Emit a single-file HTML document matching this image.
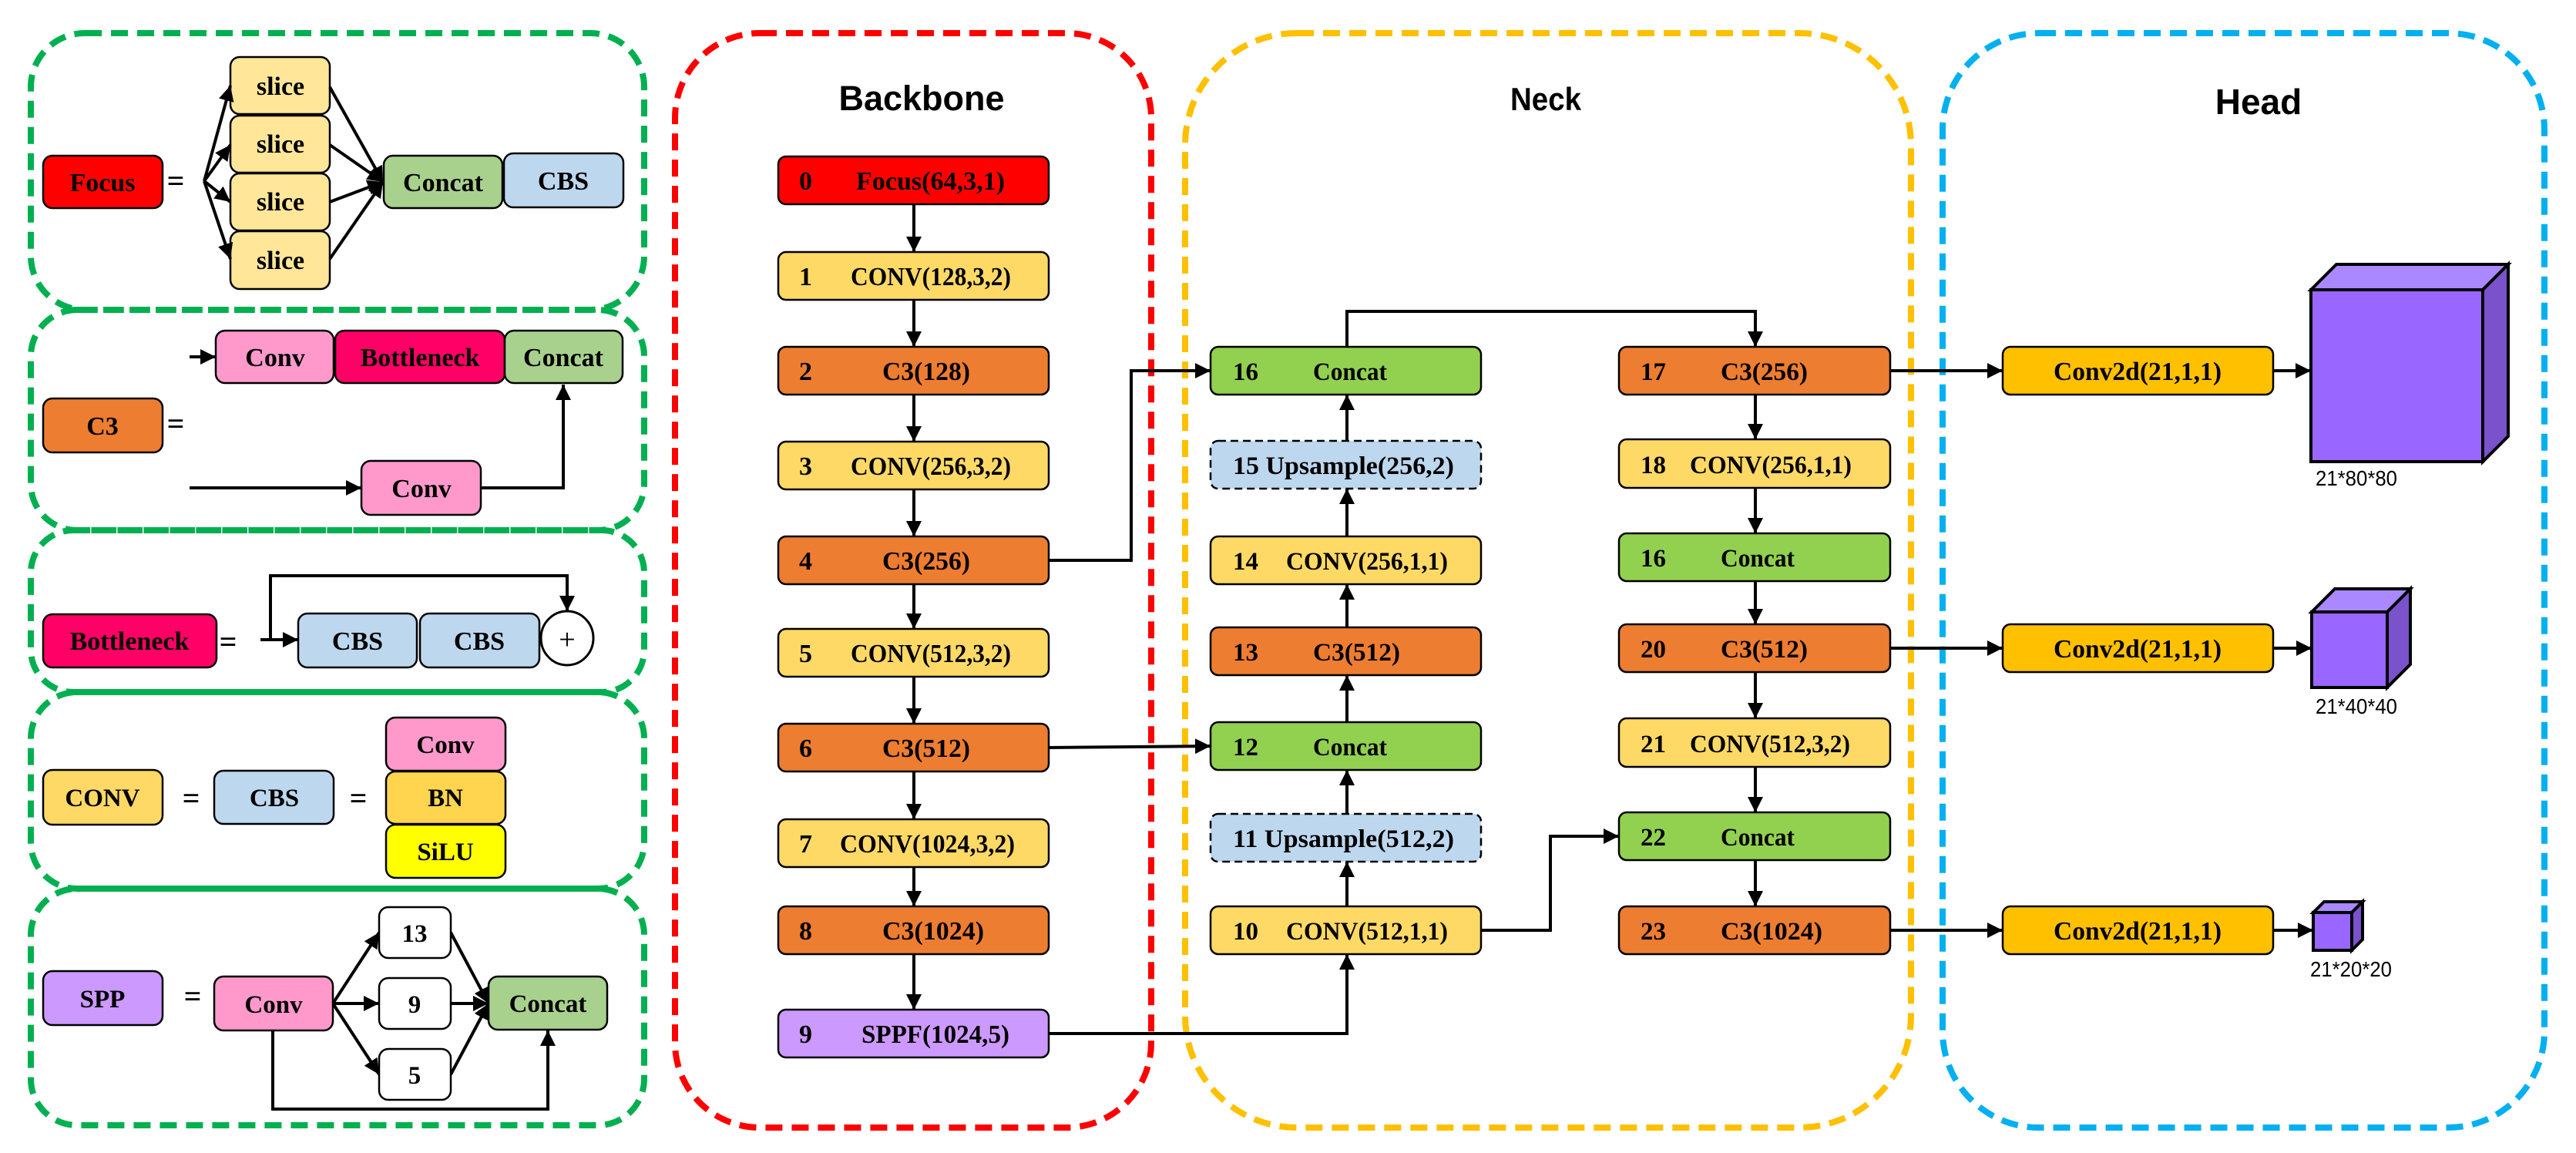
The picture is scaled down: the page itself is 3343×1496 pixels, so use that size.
<!DOCTYPE html>
<html><head><meta charset="utf-8"><style>
html,body{margin:0;padding:0;background:#fff;}
svg{display:block;}
text{font-family:"Liberation Serif",serif;font-weight:bold;fill:#000;}
.t{font-family:"Liberation Sans",sans-serif;font-weight:bold;}
.s{font-family:"Liberation Sans",sans-serif;font-weight:normal;}
.b{stroke:#000;stroke-width:2.5;}
.l{stroke:#000;stroke-width:4;fill:none;}
</style></head><body>
<svg width="3343" height="1496" viewBox="0 0 3343 1496" xmlns="http://www.w3.org/2000/svg">
<defs>
<marker id="a" viewBox="0 0 10 10" refX="10" refY="5" markerWidth="5" markerHeight="5" orient="auto" markerUnits="strokeWidth"><path d="M0,0L10,5L0,10z" fill="#000"/></marker>
</defs>

<g fill="none" stroke-width="8" stroke-dasharray="22,12">
<rect x="40" y="43" width="796" height="359" rx="70" stroke="#00b050"/>
<rect x="40" y="402" width="796" height="286" rx="60" stroke="#00b050"/>
<rect x="40" y="688" width="796" height="210" rx="55" stroke="#00b050"/>
<rect x="40" y="898" width="796" height="255" rx="60" stroke="#00b050"/>
<rect x="40" y="1153" width="796" height="307" rx="60" stroke="#00b050"/>
<rect x="876" y="43" width="618" height="1420" rx="110" stroke="#ff0000"/>
<rect x="1538" y="43" width="942" height="1420" rx="145" stroke="#ffc000"/>
<rect x="2521" y="43" width="781" height="1420" rx="125" stroke="#00b0f0"/>
</g>

<text class="t" x="1196" y="143" font-size="45" text-anchor="middle">Backbone</text>
<text class="t" x="2006" y="143" font-size="42" text-anchor="middle" textLength="92" lengthAdjust="spacingAndGlyphs">Neck</text>
<text class="t" x="2931" y="148" font-size="46" text-anchor="middle">Head</text>

<rect class="b" x="56" y="202" width="155" height="68" rx="12" fill="#ff0000"/>
<text x="133" y="248" font-size="34" text-anchor="middle">Focus</text>
<text x="228" y="248" font-size="40" text-anchor="middle">=</text>
<g fill="#ffe699">
<rect class="b" x="299" y="74" width="129" height="74" rx="12"/>
<rect class="b" x="299" y="150" width="129" height="74" rx="12"/>
<rect class="b" x="299" y="225" width="129" height="74" rx="12"/>
<rect class="b" x="299" y="300" width="129" height="75" rx="12"/>
</g>
<g font-size="34" text-anchor="middle">
<text x="364" y="123">slice</text><text x="364" y="198">slice</text>
<text x="364" y="273">slice</text><text x="364" y="349">slice</text>
</g>
<g class="l" marker-end="url(#a)">
<line x1="265" y1="235" x2="299" y2="111"/>
<line x1="265" y1="235" x2="299" y2="188"/>
<line x1="265" y1="235" x2="299" y2="262"/>
<line x1="265" y1="235" x2="299" y2="336"/>
<line x1="428" y1="113" x2="497" y2="236"/>
<line x1="428" y1="188" x2="497" y2="236"/>
<line x1="428" y1="262" x2="497" y2="236"/>
<line x1="428" y1="336" x2="497" y2="236"/>
</g>
<rect class="b" x="498" y="202" width="154" height="68" rx="12" fill="#a9d18e"/>
<text x="575" y="248" font-size="34" text-anchor="middle">Concat</text>
<rect class="b" x="654" y="199" width="155" height="70" rx="12" fill="#bdd7ee"/>
<text x="731" y="246" font-size="34" text-anchor="middle">CBS</text>

<line class="l" x1="246" y1="463" x2="280" y2="463" marker-end="url(#a)"/>
<rect class="b" x="280" y="429" width="153" height="68" rx="12" fill="#ff99cc"/>
<text x="357" y="475" font-size="34" text-anchor="middle">Conv</text>
<rect class="b" x="435" y="429" width="220" height="68" rx="12" fill="#ff0066"/>
<text x="545" y="475" font-size="34" text-anchor="middle">Bottleneck</text>
<rect class="b" x="655" y="429" width="153" height="68" rx="12" fill="#a9d18e"/>
<text x="731" y="475" font-size="34" text-anchor="middle">Concat</text>
<rect class="b" x="56" y="517" width="155" height="70" rx="12" fill="#ed7d31"/>
<text x="133" y="564" font-size="34" text-anchor="middle">C3</text>
<text x="228" y="563" font-size="40" text-anchor="middle">=</text>
<line class="l" x1="246" y1="633" x2="469" y2="633" marker-end="url(#a)"/>
<rect class="b" x="469" y="598" width="155" height="70" rx="12" fill="#ff99cc"/>
<text x="547" y="645" font-size="34" text-anchor="middle">Conv</text>
<polyline class="l" points="624,633 731,633 731,499" marker-end="url(#a)"/>

<rect class="b" x="56" y="797" width="225" height="69" rx="12" fill="#ff0066"/>
<text x="168" y="843" font-size="34" text-anchor="middle">Bottleneck</text>
<text x="296" y="846" font-size="40" text-anchor="middle">=</text>
<line class="l" x1="338" y1="830" x2="387" y2="830" marker-end="url(#a)"/>
<polyline class="l" points="351,830 351,747 736,747 736,793" marker-end="url(#a)"/>
<rect class="b" x="387" y="796" width="154" height="70" rx="12" fill="#bdd7ee"/>
<text x="464" y="843" font-size="34" text-anchor="middle">CBS</text>
<rect class="b" x="545" y="796" width="155" height="70" rx="12" fill="#bdd7ee"/>
<text x="622" y="843" font-size="34" text-anchor="middle">CBS</text>
<ellipse cx="736" cy="828" rx="34" ry="35" fill="#fff" stroke="#000" stroke-width="3"/>
<text x="736" y="842" font-size="38" text-anchor="middle" style="font-weight:normal">+</text>

<rect class="b" x="56" y="999" width="155" height="71" rx="12" fill="#ffd966"/>
<text x="133" y="1046" font-size="33" text-anchor="middle">CONV</text>
<text x="248" y="1049" font-size="40" text-anchor="middle">=</text>
<rect class="b" x="278" y="1000" width="155" height="69" rx="12" fill="#bdd7ee"/>
<text x="356" y="1046" font-size="33" text-anchor="middle">CBS</text>
<text x="465" y="1049" font-size="40" text-anchor="middle">=</text>
<rect class="b" x="501" y="931" width="155" height="69" rx="12" fill="#ff99cc"/>
<text x="578" y="977" font-size="33" text-anchor="middle">Conv</text>
<rect class="b" x="501" y="1001" width="155" height="68" rx="12" fill="#ffd54f"/>
<text x="578" y="1046" font-size="33" text-anchor="middle">BN</text>
<rect class="b" x="501" y="1070" width="155" height="69" rx="12" fill="#ffff00"/>
<text x="578" y="1116" font-size="33" text-anchor="middle">SiLU</text>

<rect class="b" x="56" y="1260" width="155" height="70" rx="12" fill="#cc99ff"/>
<text x="133" y="1307" font-size="33" text-anchor="middle">SPP</text>
<text x="250" y="1306" font-size="40" text-anchor="middle">=</text>
<rect class="b" x="278" y="1267" width="154" height="70" rx="12" fill="#ff99cc"/>
<text x="355" y="1314" font-size="33" text-anchor="middle">Conv</text>
<g class="l" marker-end="url(#a)">
<line x1="432" y1="1302" x2="492" y2="1210"/>
<line x1="432" y1="1302" x2="492" y2="1302"/>
<line x1="432" y1="1302" x2="492" y2="1394"/>
<line x1="585" y1="1210" x2="634" y2="1302"/>
<line x1="585" y1="1302" x2="634" y2="1302"/>
<line x1="585" y1="1394" x2="634" y2="1302"/>
</g>
<g fill="#fff">
<rect class="b" x="492" y="1177" width="93" height="66" rx="12"/>
<rect class="b" x="492" y="1269" width="93" height="66" rx="12"/>
<rect class="b" x="492" y="1361" width="93" height="66" rx="12"/>
</g>
<text x="538" y="1222" font-size="33" text-anchor="middle">13</text>
<text x="538" y="1314" font-size="33" text-anchor="middle">9</text>
<text x="538" y="1406" font-size="33" text-anchor="middle">5</text>
<rect class="b" x="634" y="1267" width="154" height="69" rx="12" fill="#a9d18e"/>
<text x="711" y="1313" font-size="33" text-anchor="middle">Concat</text>
<polyline class="l" points="354,1337 354,1439 711,1439 711,1337" marker-end="url(#a)"/>

<g class="l" marker-end="url(#a)">
<line x1="1186" y1="265" x2="1186" y2="327"/>
<line x1="1186" y1="389" x2="1186" y2="450"/>
<line x1="1186" y1="512" x2="1186" y2="573"/>
<line x1="1186" y1="635" x2="1186" y2="696"/>
<line x1="1186" y1="758" x2="1186" y2="816"/>
<line x1="1186" y1="878" x2="1186" y2="939"/>
<line x1="1186" y1="1001" x2="1186" y2="1063"/>
<line x1="1186" y1="1125" x2="1186" y2="1176"/>
<line x1="1186" y1="1238" x2="1186" y2="1310"/>
</g>
<g class="b">
<rect x="1010" y="203" width="351" height="62" rx="10" fill="#ff0000"/>
<rect x="1010" y="327" width="351" height="62" rx="10" fill="#ffd966"/>
<rect x="1010" y="450" width="351" height="62" rx="10" fill="#ed7d31"/>
<rect x="1010" y="573" width="351" height="62" rx="10" fill="#ffd966"/>
<rect x="1010" y="696" width="351" height="62" rx="10" fill="#ed7d31"/>
<rect x="1010" y="816" width="351" height="62" rx="10" fill="#ffd966"/>
<rect x="1010" y="939" width="351" height="62" rx="10" fill="#ed7d31"/>
<rect x="1010" y="1063" width="351" height="62" rx="10" fill="#ffd966"/>
<rect x="1010" y="1176" width="351" height="62" rx="10" fill="#ed7d31"/>
<rect x="1010" y="1310" width="351" height="62" rx="10" fill="#cc99ff"/>
</g>
<g font-size="34">
<text x="1037" y="246">0</text><text x="1111" y="246" textLength="193" lengthAdjust="spacingAndGlyphs">Focus(64,3,1)</text>
<text x="1037" y="370">1</text><text x="1104" y="370" textLength="208" lengthAdjust="spacingAndGlyphs">CONV(128,3,2)</text>
<text x="1037" y="493">2</text><text x="1145" y="493" textLength="114" lengthAdjust="spacingAndGlyphs">C3(128)</text>
<text x="1037" y="616">3</text><text x="1104" y="616" textLength="208" lengthAdjust="spacingAndGlyphs">CONV(256,3,2)</text>
<text x="1037" y="739">4</text><text x="1145" y="739" textLength="114" lengthAdjust="spacingAndGlyphs">C3(256)</text>
<text x="1037" y="859">5</text><text x="1104" y="859" textLength="208" lengthAdjust="spacingAndGlyphs">CONV(512,3,2)</text>
<text x="1037" y="982">6</text><text x="1145" y="982" textLength="114" lengthAdjust="spacingAndGlyphs">C3(512)</text>
<text x="1037" y="1106">7</text><text x="1090" y="1106" textLength="227" lengthAdjust="spacingAndGlyphs">CONV(1024,3,2)</text>
<text x="1037" y="1219">8</text><text x="1145" y="1219" textLength="132" lengthAdjust="spacingAndGlyphs">C3(1024)</text>
<text x="1037" y="1353">9</text><text x="1118" y="1353" textLength="192" lengthAdjust="spacingAndGlyphs">SPPF(1024,5)</text>
</g>

<g class="l" marker-end="url(#a)">
<polyline points="1361,727 1468,727 1468,481 1571,481"/>
<line x1="1361" y1="970" x2="1571" y2="968"/>
<polyline points="1361,1341 1748,1341 1748,1238"/>
<polyline points="1922,1207 2012,1207 2012,1085 2101,1085"/>
<polyline points="1748,450 1748,404 2278,404 2278,450"/>
<line x1="2453" y1="481" x2="2599" y2="481"/>
<line x1="2453" y1="841" x2="2599" y2="841"/>
<line x1="2453" y1="1207" x2="2599" y2="1207"/>
<line x1="2950" y1="481" x2="2999" y2="481"/>
<line x1="2950" y1="841" x2="3000" y2="841"/>
<line x1="2950" y1="1207" x2="3002" y2="1207"/>
<line x1="1748" y1="1176" x2="1748" y2="1118"/>
<line x1="1748" y1="1056" x2="1748" y2="999"/>
<line x1="1748" y1="937" x2="1748" y2="876"/>
<line x1="1748" y1="814" x2="1748" y2="758"/>
<line x1="1748" y1="696" x2="1748" y2="634"/>
<line x1="1748" y1="572" x2="1748" y2="512"/>
<line x1="2278" y1="512" x2="2278" y2="570"/>
<line x1="2278" y1="633" x2="2278" y2="692"/>
<line x1="2278" y1="754" x2="2278" y2="810"/>
<line x1="2278" y1="872" x2="2278" y2="932"/>
<line x1="2278" y1="995" x2="2278" y2="1054"/>
<line x1="2278" y1="1116" x2="2278" y2="1176"/>
</g>

<g class="b">
<rect x="1571" y="450" width="351" height="62" rx="10" fill="#92d050"/>
<rect x="1571" y="572" width="351" height="62" rx="10" fill="#bdd7ee" stroke-dasharray="10,6"/>
<rect x="1571" y="696" width="351" height="62" rx="10" fill="#ffd966"/>
<rect x="1571" y="814" width="351" height="62" rx="10" fill="#ed7d31"/>
<rect x="1571" y="937" width="351" height="62" rx="10" fill="#92d050"/>
<rect x="1571" y="1056" width="351" height="62" rx="10" fill="#bdd7ee" stroke-dasharray="10,6"/>
<rect x="1571" y="1176" width="351" height="62" rx="10" fill="#ffd966"/>
<rect x="2101" y="450" width="352" height="62" rx="10" fill="#ed7d31"/>
<rect x="2101" y="570" width="352" height="63" rx="10" fill="#ffd966"/>
<rect x="2101" y="692" width="352" height="62" rx="10" fill="#92d050"/>
<rect x="2101" y="810" width="352" height="62" rx="10" fill="#ed7d31"/>
<rect x="2101" y="932" width="352" height="63" rx="10" fill="#ffd966"/>
<rect x="2101" y="1054" width="352" height="62" rx="10" fill="#92d050"/>
<rect x="2101" y="1176" width="352" height="62" rx="10" fill="#ed7d31"/>
</g>
<g font-size="33">
<text x="1600" y="493">16</text><text x="1704" y="493" textLength="96" lengthAdjust="spacingAndGlyphs">Concat</text>
<text x="1600" y="615" textLength="287" lengthAdjust="spacingAndGlyphs">15 Upsample(256,2)</text>
<text x="1600" y="739">14</text><text x="1669" y="739" textLength="210" lengthAdjust="spacingAndGlyphs">CONV(256,1,1)</text>
<text x="1600" y="857">13</text><text x="1704" y="857" textLength="113" lengthAdjust="spacingAndGlyphs">C3(512)</text>
<text x="1600" y="980">12</text><text x="1704" y="980" textLength="96" lengthAdjust="spacingAndGlyphs">Concat</text>
<text x="1600" y="1099" textLength="287" lengthAdjust="spacingAndGlyphs">11 Upsample(512,2)</text>
<text x="1600" y="1219">10</text><text x="1669" y="1219" textLength="210" lengthAdjust="spacingAndGlyphs">CONV(512,1,1)</text>
<text x="2129" y="493">17</text><text x="2233" y="493" textLength="113" lengthAdjust="spacingAndGlyphs">C3(256)</text>
<text x="2129" y="614">18</text><text x="2193" y="614" textLength="210" lengthAdjust="spacingAndGlyphs">CONV(256,1,1)</text>
<text x="2129" y="735">16</text><text x="2233" y="735" textLength="96" lengthAdjust="spacingAndGlyphs">Concat</text>
<text x="2129" y="853">20</text><text x="2233" y="853" textLength="113" lengthAdjust="spacingAndGlyphs">C3(512)</text>
<text x="2129" y="976">21</text><text x="2193" y="976" textLength="208" lengthAdjust="spacingAndGlyphs">CONV(512,3,2)</text>
<text x="2129" y="1097">22</text><text x="2233" y="1097" textLength="96" lengthAdjust="spacingAndGlyphs">Concat</text>
<text x="2129" y="1219">23</text><text x="2233" y="1219" textLength="132" lengthAdjust="spacingAndGlyphs">C3(1024)</text>
</g>

<g class="b" fill="#ffc000">
<rect x="2599" y="450" width="351" height="62" rx="10"/>
<rect x="2599" y="810" width="351" height="62" rx="10"/>
<rect x="2599" y="1176" width="351" height="62" rx="10"/>
</g>
<g font-size="34" text-anchor="middle">
<text x="2774" y="493" textLength="218" lengthAdjust="spacingAndGlyphs">Conv2d(21,1,1)</text>
<text x="2774" y="853" textLength="218" lengthAdjust="spacingAndGlyphs">Conv2d(21,1,1)</text>
<text x="2774" y="1219" textLength="218" lengthAdjust="spacingAndGlyphs">Conv2d(21,1,1)</text>
</g>
<g stroke="#000" stroke-width="4" stroke-linejoin="miter">
<polygon points="2999,376 3032,343 3255,343 3222,376" fill="#aa88ff"/>
<polygon points="3222,376 3255,343 3255,566 3222,599" fill="#7a52cc"/>
<rect x="2999" y="376" width="223" height="223" fill="#9966ff"/>
<polygon points="3000,794 3030,764 3128,764 3098,794" fill="#aa88ff"/>
<polygon points="3098,794 3128,764 3128,862 3098,892" fill="#7a52cc"/>
<rect x="3000" y="794" width="98" height="98" fill="#9966ff"/>
<polygon points="3002,1184 3016,1170 3066,1170 3052,1184" fill="#aa88ff"/>
<polygon points="3052,1184 3066,1170 3066,1219 3052,1233" fill="#7a52cc"/>
<rect x="3002" y="1184" width="50" height="49" fill="#9966ff"/>
</g>
<text class="s" x="3005" y="630" font-size="28" textLength="106" lengthAdjust="spacingAndGlyphs">21*80*80</text>
<text class="s" x="3005" y="926" font-size="28" textLength="106" lengthAdjust="spacingAndGlyphs">21*40*40</text>
<text class="s" x="2998" y="1267" font-size="28" textLength="106" lengthAdjust="spacingAndGlyphs">21*20*20</text>
</svg>
</body></html>
